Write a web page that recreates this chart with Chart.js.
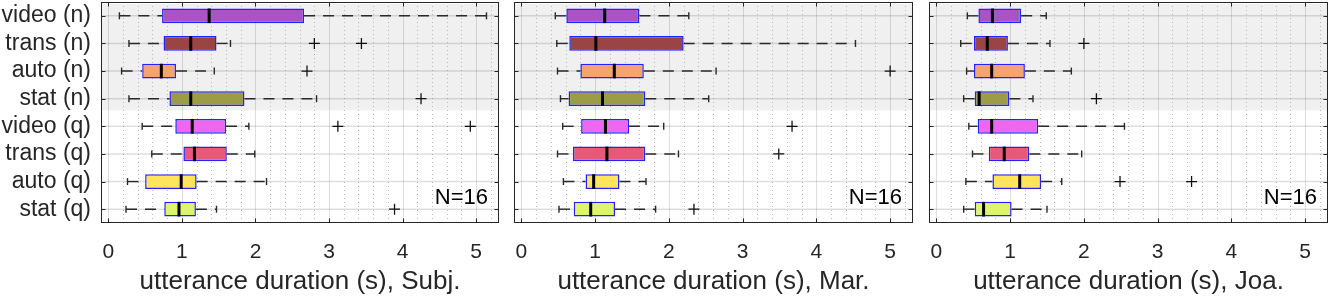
<!DOCTYPE html>
<html><head><meta charset="utf-8">
<script src="https://cdn.jsdelivr.net/npm/chart.js@4.4.1/dist/chart.umd.min.js"></script>
<style>
html,body{margin:0;padding:0;background:#fff;width:1329px;height:297px;overflow:hidden;}
canvas.p{position:absolute;top:0;}
</style></head><body>
<canvas id="c1" class="p" style="left:0px" width="506" height="297"></canvas>
<canvas id="c2" class="p" style="left:506px" width="412" height="297"></canvas>
<canvas id="c3" class="p" style="left:918px" width="411" height="297"></canvas>
<script>
const categories = ['video (n)','trans (n)','auto (n)','stat (n)','video (q)','trans (q)','auto (q)','stat (q)'];
const boxColors = ['#a656c4','#9b4444','#f4a46c','#9c9c44','#f066ee','#e85878','#ffe45c','#def46c'];
const xTicks = [0,1,2,3,4,5];

// Subj.
const subjLo  = [0.15, 0.28, 0.18, 0.28, 0.46, 0.59, 0.26, 0.24];
const subjQ1  = [0.73, 0.75, 0.46, 0.83, 0.91, 1.02, 0.50, 0.76];
const subjMed = [1.37, 1.12, 0.72, 1.12, 1.14, 1.17, 0.99, 0.96];
const subjQ3  = [2.66, 1.47, 0.92, 1.85, 1.60, 1.61, 1.20, 1.19];
const subjHi  = [5.14, 1.66, 1.44, 2.83, 1.91, 1.99, 2.15, 1.47];
const subjOut = [[1,2.80],[1,3.44],[2,2.70],[3,4.25],[4,3.12],[4,4.92],[7,3.89]];

// Mar.
const marLo  = [0.46, 0.48, 0.49, 0.53, 0.56, 0.49, 0.57, 0.51];
const marQ1  = [0.61, 0.65, 0.80, 0.64, 0.81, 0.70, 0.87, 0.71];
const marMed = [1.13, 1.01, 1.26, 1.10, 1.14, 1.16, 0.98, 0.94];
const marQ3  = [1.60, 2.20, 1.66, 1.68, 1.46, 1.68, 1.33, 1.27];
const marHi  = [2.27, 4.53, 2.64, 2.54, 1.93, 2.13, 1.69, 1.82];
const marOut = [[2,5.00],[4,3.67],[5,3.49],[7,2.34]];

// Joa.
const joaLo  = [0.42, 0.33, 0.41, 0.37, 0.44, 0.49, 0.40, 0.37];
const joaQ1  = [0.57, 0.51, 0.51, 0.52, 0.56, 0.71, 0.76, 0.52];
const joaMed = [0.76, 0.69, 0.75, 0.58, 0.75, 0.92, 1.13, 0.64];
const joaQ3  = [1.15, 0.97, 1.20, 0.99, 1.38, 1.26, 1.42, 1.02];
const joaHi  = [1.49, 1.54, 1.83, 1.31, 2.55, 1.97, 1.70, 1.50];
const joaOut = [[1,2.00],[3,2.17],[6,2.49],[6,3.46]];

const FONT = '"Liberation Sans", Arial, Helvetica, sans-serif';
const TEXT = '#262626';

function makePanel(canvasId, p) {
  const extras = {
    id: 'boxExtras',
    beforeDatasetsDraw(chart) {
      const {ctx, chartArea: a, scales: {x, y}} = chart;
      ctx.save();
      const gTop = y.getPixelForValue(-0.43), gBot = y.getPixelForValue(3.42);
      ctx.fillStyle = '#f0f0f0';
      ctx.fillRect(a.left, gTop, a.right - a.left, gBot - gTop);
      ctx.strokeStyle = '#b8b8b8'; ctx.lineWidth = 1; ctx.setLineDash([1,3]);
      for (let k = 0; k <= 26; k++) {
        if (k % 5 === 0) continue;
        const px = Math.round(x.getPixelForValue(k * 0.2)) + 0.5;
        ctx.beginPath(); ctx.moveTo(px, a.top); ctx.lineTo(px, a.bottom); ctx.stroke();
      }
      ctx.setLineDash([]);
      ctx.strokeStyle = 'rgba(0,0,0,0.13)'; ctx.lineWidth = 1;
      xTicks.forEach(v => {
        const px = Math.round(x.getPixelForValue(v)) + 0.5;
        ctx.beginPath(); ctx.moveTo(px, a.top); ctx.lineTo(px, a.bottom); ctx.stroke();
      });
      ctx.lineWidth = 1.5;
      categories.forEach((c, i) => {
        const py = y.getPixelForValue(i);
        ctx.beginPath(); ctx.moveTo(a.left, py); ctx.lineTo(a.right, py); ctx.stroke();
      });
      ctx.strokeStyle = '#2a2a2a'; ctx.lineWidth = 1.4;
      categories.forEach((c, i) => {
        const py = y.getPixelForValue(i);
        ctx.setLineDash([11,8]);
        ctx.beginPath(); ctx.moveTo(x.getPixelForValue(p.lo[i]), py); ctx.lineTo(x.getPixelForValue(p.q1[i]), py); ctx.stroke();
        ctx.beginPath(); ctx.moveTo(x.getPixelForValue(p.q3[i]), py); ctx.lineTo(x.getPixelForValue(p.hi[i]), py); ctx.stroke();
        ctx.setLineDash([]);
        [p.lo[i], p.hi[i]].forEach(v => {
          const px = x.getPixelForValue(v);
          ctx.beginPath(); ctx.moveTo(px, py - 3.5); ctx.lineTo(px, py + 3.5); ctx.stroke();
        });
      });
      ctx.restore();
    },
    afterDatasetsDraw(chart) {
      const {ctx, chartArea: a, scales: {x, y}} = chart;
      const bars = chart.getDatasetMeta(0).data;
      ctx.save();
      ctx.strokeStyle = '#000'; ctx.lineWidth = 3;
      categories.forEach((c, i) => {
        const py = y.getPixelForValue(i);
        const h = bars[i].height;
        const px = x.getPixelForValue(p.med[i]);
        ctx.beginPath(); ctx.moveTo(px, py - h / 2); ctx.lineTo(px, py + h / 2); ctx.stroke();
      });
      ctx.strokeStyle = TEXT; ctx.lineWidth = 1;
      const L = Math.round(a.left) + 0.5, R = Math.round(a.right) - 0.5, T = Math.round(a.top) + 0.5, B = Math.round(a.bottom) - 0.5;
      ctx.strokeRect(L, T, R - L, B - T);
      xTicks.forEach(v => {
        const px = Math.round(x.getPixelForValue(v)) + 0.5;
        ctx.beginPath(); ctx.moveTo(px, B); ctx.lineTo(px, B - 4); ctx.moveTo(px, T); ctx.lineTo(px, T + 4); ctx.stroke();
      });
      categories.forEach((c, i) => {
        const py = Math.round(y.getPixelForValue(i)) + 0.5;
        ctx.beginPath(); ctx.moveTo(L, py); ctx.lineTo(L + 4, py); ctx.moveTo(R, py); ctx.lineTo(R - 4, py); ctx.stroke();
      });
      ctx.fillStyle = '#000'; ctx.font = '22px ' + FONT; ctx.textAlign = 'right'; ctx.textBaseline = 'alphabetic';
      ctx.fillText(p.note, a.right - 11, 204);
      ctx.restore();
    }
  };

  return new Chart(document.getElementById(canvasId), {
    type: 'bar',
    data: {
      labels: categories,
      datasets: [
        {
          type: 'bar',
          data: p.q1.map((v, i) => [v, p.q3[i]]),
          backgroundColor: boxColors,
          borderColor: '#2323ff',
          borderWidth: 1.5,
          borderSkipped: false,
          barPercentage: 0.53,
          categoryPercentage: 1,
          order: 2
        },
        {
          type: 'scatter',
          data: p.out.map(o => ({x: o[1], y: categories[o[0]]})),
          pointStyle: 'cross',
          radius: 5.5,
          borderColor: '#111',
          borderWidth: 1.3,
          backgroundColor: 'rgba(0,0,0,0)',
          order: 1
        }
      ]
    },
    options: {
      indexAxis: 'y',
      responsive: false,
      animation: false,
      events: [],
      devicePixelRatio: 1,
      layout: {autoPadding: false, padding: {top: 2, right: p.padRight, bottom: 0, left: 0}},
      plugins: {legend: {display: false}, tooltip: {enabled: false}},
      scales: {
        x: {
          type: 'linear', position: 'bottom', min: -0.1, max: 5.31,
          grid: {display: false, drawTicks: false}, border: {display: false},
          afterBuildTicks: s => { s.ticks = xTicks.map(v => ({value: v})); },
          afterFit: s => { s.height = 74; s.paddingLeft = 0; s.paddingRight = 0; s.paddingTop = 0; s.paddingBottom = 0; },
          ticks: {color: TEXT, font: {family: FONT, size: 21}, padding: 17, autoSkip: false, maxRotation: 0},
          title: {display: true, text: p.title, color: TEXT, font: {family: FONT, size: 26}, padding: {top: 0, bottom: 0}}
        },
        y: {
          type: 'category', position: 'left', offset: true,
          grid: {display: false, drawTicks: false}, border: {display: false},
          afterFit: s => { s.width = p.yWidth; s.paddingTop = 0; s.paddingBottom = 0; s.paddingLeft = 0; s.paddingRight = 0; },
          ticks: {display: p.showLabels, color: TEXT, font: {family: FONT, size: 23}, padding: 10, autoSkip: false}
        }
      }
    },
    plugins: [extras]
  });
}

makePanel('c1', {lo: subjLo, q1: subjQ1, med: subjMed, q3: subjQ3, hi: subjHi, out: subjOut,
  title: 'utterance duration (s), Subj.', note: 'N=16', yWidth: 101, padRight: 7, showLabels: true});
makePanel('c2', {lo: marLo, q1: marQ1, med: marMed, q3: marQ3, hi: marHi, out: marOut,
  title: 'utterance duration (s), Mar.', note: 'N=16', yWidth: 8, padRight: 5, showLabels: false});
makePanel('c3', {lo: joaLo, q1: joaQ1, med: joaMed, q3: joaQ3, hi: joaHi, out: joaOut,
  title: 'utterance duration (s), Joa.', note: 'N=16', yWidth: 11, padRight: 1, showLabels: false});
</script>
</body></html>
